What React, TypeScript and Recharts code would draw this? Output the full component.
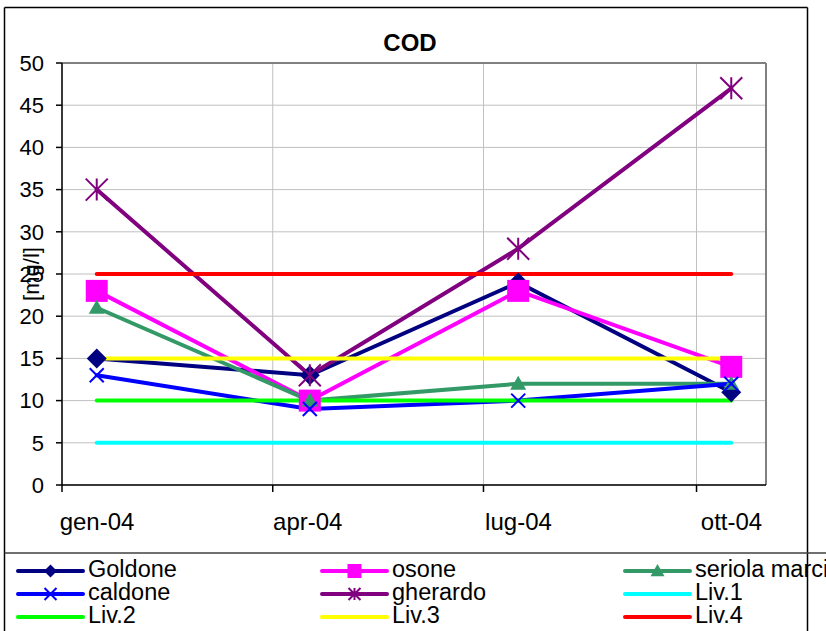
import {
  CartesianGrid,
  Line,
  LineChart,
  ReferenceLine,
  XAxis,
  YAxis,
} from 'recharts';

// sampling dates as day of year 2004 (0 = 1 Jan)
const sampleDays = [15, 107, 197, 289];
const monthStarts = [0, 91, 182, 274];
const monthLabels = ['gen-04', 'apr-04', 'lug-04', 'ott-04'];
const yTicks = [0, 5, 10, 15, 20, 25, 30, 35, 40, 45, 50];

const goldone = [15, 13, 24, 11];
const osone = [23, 10, 23, 14];
const seriola = [21, 10, 12, 12];
const caldone = [13, 9, 10, 12];
const gherardo = [35, 13, 28, 47];
const liv1 = [5, 5, 5, 5];
const liv2 = [10, 10, 10, 10];
const liv3 = [15, 15, 15, 15];
const liv4 = [25, 25, 25, 25];

const data = sampleDays.map((day, i) => ({
  day,
  goldone: goldone[i],
  osone: osone[i],
  seriola: seriola[i],
  caldone: caldone[i],
  gherardo: gherardo[i],
  liv1: liv1[i],
  liv2: liv2[i],
  liv3: liv3[i],
  liv4: liv4[i],
}));

type Shape = 'diamond' | 'square' | 'triangle' | 'x' | 'star' | null;

const series: { key: string; name: string; color: string; shape: Shape }[] = [
  { key: 'goldone', name: 'Goldone', color: '#000080', shape: 'diamond' },
  { key: 'osone', name: 'osone', color: '#FF00FF', shape: 'square' },
  { key: 'seriola', name: 'seriola marcia', color: '#339966', shape: 'triangle' },
  { key: 'caldone', name: 'caldone', color: '#0000FF', shape: 'x' },
  { key: 'gherardo', name: 'gherardo', color: '#800080', shape: 'star' },
  { key: 'liv1', name: 'Liv.1', color: '#00FFFF', shape: null },
  { key: 'liv2', name: 'Liv.2', color: '#00FF00', shape: null },
  { key: 'liv3', name: 'Liv.3', color: '#FFFF00', shape: null },
  { key: 'liv4', name: 'Liv.4', color: '#FF0000', shape: null },
];

const FONT = '"Liberation Sans", Arial, sans-serif';

const chartSizes: Record<string, number> = { diamond: 10, square: 11, triangle: 8, x: 7, star: 11 };
const legendSizes: Record<string, number> = { diamond: 6.5, square: 7, triangle: 7, x: 6, star: 6 };

function Marker({ shape, cx, cy, color, s }: { shape: Shape; cx: number; cy: number; color: string; s: number }) {
  if (cx == null || cy == null || !shape) return null;
  switch (shape) {
    case 'diamond':
      return <polygon points={`${cx},${cy - s} ${cx + s},${cy} ${cx},${cy + s} ${cx - s},${cy}`} fill={color} />;
    case 'square':
      return <rect x={cx - s} y={cy - s} width={2 * s} height={2 * s} fill={color} />;
    case 'triangle':
      return <polygon points={`${cx},${cy - s} ${cx + s},${cy + s * 0.75} ${cx - s},${cy + s * 0.75}`} fill={color} />;
    case 'x':
      return (
        <path
          d={`M${cx - s},${cy - s}L${cx + s},${cy + s}M${cx + s},${cy - s}L${cx - s},${cy + s}`}
          stroke={color}
          strokeWidth={2}
          fill="none"
        />
      );
    case 'star':
      return (
        <path
          d={`M${cx - s},${cy - s}L${cx + s},${cy + s}M${cx + s},${cy - s}L${cx - s},${cy + s}M${cx},${cy - s}L${cx},${cy + s}`}
          stroke={color}
          strokeWidth={2}
          fill="none"
        />
      );
  }
  return null;
}

function MonthTick(props: any) {
  const { x, y, payload } = props;
  const idx = monthStarts.indexOf(payload.value);
  return (
    <text x={x + 35} y={y + 38} textAnchor="middle" fontSize={24} fontFamily={FONT} fill="#000">
      {monthLabels[idx]}
    </text>
  );
}

function YTitle(props: any) {
  const vb = props.viewBox;
  const cy = vb.y + vb.height / 2;
  return (
    <text transform={`translate(31,${cy}) rotate(-90)`} textAnchor="middle" dominantBaseline="central" fontSize={22} fontFamily={FONT} fill="#000">
      [mg/l]
    </text>
  );
}

const legendCols = [18, 322, 625];
const legendRows = [571, 594, 617];

export default function App() {
  return (
    <div style={{ position: 'absolute', left: 0, top: 0, width: 826, height: 631, overflow: 'hidden', background: '#fff' }}>
      <LineChart width={826} height={631} data={data} margin={{ top: 63, right: 60, left: 0, bottom: 0 }}>
        <CartesianGrid stroke="#c0c0c0" strokeWidth={1} />
        <XAxis
          dataKey="day"
          type="number"
          domain={[0, 304]}
          ticks={monthStarts}
          tick={<MonthTick />}
          tickSize={7}
          tickMargin={0}
          height={146}
          stroke="#000"
          strokeWidth={1.5}
          interval={0}
        />
        <YAxis
          domain={[0, 50]}
          ticks={yTicks}
          width={62}
          tickSize={6}
          tickMargin={12}
          stroke="#000"
          strokeWidth={1.5}
          tick={{ fontSize: 22, fontFamily: FONT, fill: '#000' }}
          interval={0}
          label={{ content: <YTitle /> }}
        />
        <ReferenceLine y={50} stroke="#808080" strokeWidth={2} />
        <ReferenceLine x={304} stroke="#808080" strokeWidth={2} />
        {series.map((s) => (
          <Line
            key={s.key}
            dataKey={s.key}
            name={s.name}
            stroke={s.color}
            strokeWidth={4}
            strokeLinecap="round"
            isAnimationActive={false}
            activeDot={false}
            dot={
              s.shape
                ? (p: any) => <Marker key={`${s.key}-${p.index}`} shape={s.shape} cx={p.cx} cy={p.cy} color={s.color} s={chartSizes[s.shape as string]} />
                : false
            }
          />
        ))}
      </LineChart>
      <svg width={826} height={631} style={{ position: 'absolute', left: 0, top: 0, pointerEvents: 'none' }}>
        <text x={410} y={51} textAnchor="middle" fontSize={24} fontWeight="bold" fontFamily={FONT} fill="#000">
          COD
        </text>
        <line x1={4.5} y1={7.5} x2={807.5} y2={7.5} stroke="#000" strokeWidth={1.5} />
        <line x1={4.5} y1={7.5} x2={4.5} y2={631} stroke="#000" strokeWidth={1.5} />
        <line x1={807.5} y1={7.5} x2={807.5} y2={631} stroke="#000" strokeWidth={1.5} />
        <line x1={4.5} y1={553} x2={826} y2={553} stroke="#404040" strokeWidth={1.5} />
        {series.map((s, i) => {
          const x0 = legendCols[i % 3];
          const y0 = legendRows[Math.floor(i / 3)];
          return (
            <g key={s.key}>
              <line x1={x0} y1={y0} x2={x0 + 65} y2={y0} stroke={s.color} strokeWidth={4} strokeLinecap="round" />
              <Marker shape={s.shape} cx={x0 + 32.5} cy={y0} color={s.color} s={s.shape ? legendSizes[s.shape] : 0} />
              <text x={x0 + 70} y={y0 + 6} fontSize={23.5} fontFamily={FONT} fill="#000">
                {s.name}
              </text>
            </g>
          );
        })}
      </svg>
    </div>
  );
}
